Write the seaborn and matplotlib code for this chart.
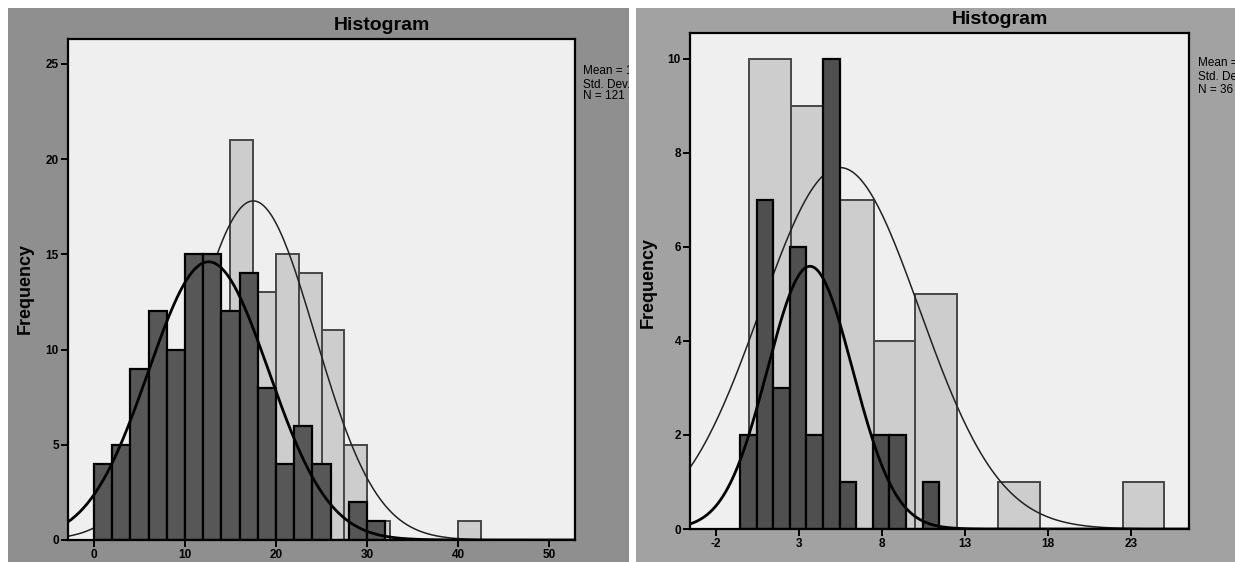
import numpy as np
import matplotlib
matplotlib.use("Agg")
import matplotlib.pyplot as plt
import seaborn as sns
from matplotlib.patches import Rectangle

# ---------------- data ----------------
# Left chart
left_light_edges = [15, 17.5, 20, 22.5, 25, 27.5, 30, 32.5, 35, 37.5, 40, 42.5]
left_light_counts = [21, 13, 15, 14, 11, 5, 1, 0, 0, 0, 1]
left_dark_edges = [0, 2, 4, 6, 8, 10, 12, 14, 16, 18, 20, 22, 24, 26, 28, 30, 32]
left_dark_counts = [4, 5, 9, 12, 10, 15, 15, 12, 14, 8, 4, 6, 4, 0, 2, 1]
left_light_fit = dict(mean=17.5, sd=6.78, n=121, bw=2.5)
left_dark_fit = dict(mean=12.6, sd=6.61, n=121, bw=2.0)
left_xticks = [0, 10, 20, 30, 40, 50]
left_yticks = [0, 5, 10, 15, 20, 25]
left_stats = ["Mean = 12.61", "Std. Dev. = 6.61", "N = 121"]

# Right chart
right_light_edges = [0, 2.5, 5, 7.5, 10, 12.5, 15, 17.5, 20, 22.5, 25]
right_light_counts = [10, 9, 7, 4, 5, 0, 1, 0, 0, 1]
right_dark_edges = [-0.55, 0.45, 1.45, 2.45, 3.45, 4.45, 5.45, 6.45, 7.45, 8.45, 9.45, 10.45, 11.45]
right_dark_counts = [2, 7, 3, 6, 2, 10, 1, 0, 2, 2, 0, 1]
right_light_fit = dict(mean=5.47, sd=4.80, n=37, bw=2.5)
right_dark_fit = dict(mean=3.66, sd=2.57, n=36, bw=1.0)
right_xticks = [-2, 3, 8, 13, 18, 23]
right_yticks = [0, 2, 4, 6, 8, 10]
right_stats = ["Mean = 3.66", "Std. Dev. = 2.57", "N = 36"]

# ---------------- style ----------------
sns.set_style("white")
plt.rcParams['font.family'] = ['Liberation Sans', 'DejaVu Sans']
plt.rcParams['axes.unicode_minus'] = False

W, H = 1235, 562
fig = plt.figure(figsize=(W / 100, H / 100), dpi=100)
fig.patch.set_facecolor("white")


def fx(px):
    return px / W


def fy(py):
    return 1 - py / H


# panel backgrounds (behind the axes)
left_panel = Rectangle((fx(8), 0), fx(629) - fx(8), fy(8), transform=fig.transFigure,
                       facecolor="#8f8f8f", edgecolor="none", zorder=-5)
right_panel = Rectangle((fx(636), 0), 1 - fx(636), fy(8), transform=fig.transFigure,
                        facecolor="#a2a2a2", edgecolor="none", zorder=-5)
fig.patches.extend([left_panel, right_panel])


def centers(edges):
    e = np.asarray(edges, dtype=float)
    return (e[:-1] + e[1:]) / 2


def fit_curve(ax, fit, xlim, color, lw, z):
    xs = np.linspace(xlim[0], xlim[1], 400)
    ys = fit["n"] * fit["bw"] / (fit["sd"] * np.sqrt(2 * np.pi)) * \
        np.exp(-0.5 * ((xs - fit["mean"]) / fit["sd"]) ** 2)
    ax.plot(xs, ys, color=color, lw=lw, zorder=z)


def draw(ax, light_e, light_c, dark_e, dark_c, light_fit, dark_fit, xlim, ylim,
         xticks, yticks, dark_fill):
    ax.set_facecolor("#efefef")
    sns.histplot(x=centers(light_e), weights=light_c, bins=light_e, ax=ax,
                 color="#cdcdcd", edgecolor="#474747", linewidth=1.4, alpha=1, zorder=2)
    fit_curve(ax, light_fit, xlim, "#222222", 1.1, 3)
    sns.histplot(x=centers(dark_e), weights=dark_c, bins=dark_e, ax=ax,
                 color=dark_fill, edgecolor="black", linewidth=1.6, alpha=1, zorder=4)
    fit_curve(ax, dark_fit, xlim, "black", 2.0, 5)
    ax.set_xlim(*xlim)
    ax.set_ylim(*ylim)
    ax.set_xticks(xticks)
    ax.set_yticks(yticks)
    ax.set_xlabel("")
    ax.set_ylabel("")
    for s in ax.spines.values():
        s.set_visible(True)
        s.set_color("black")
        s.set_linewidth(1.6)
        s.set_zorder(10)
    ax.tick_params(direction="out", length=5, width=1.4, color="black",
                   labelsize=8.5, labelcolor="black", pad=1.5,
                   bottom=True, left=True)
    for lab in ax.get_xticklabels() + ax.get_yticklabels():
        lab.set_fontweight("bold")


# left axes: x 68..575, y 39..540
axL = fig.add_axes([fx(68), fy(540), fx(575) - fx(68), fy(39) - fy(540)])
draw(axL, left_light_edges, left_light_counts, left_dark_edges, left_dark_counts,
     left_light_fit, left_dark_fit, (-2.85, 52.85), (0, 26.3),
     left_xticks, left_yticks, "#575757")

# right axes: x 690..1189, y 33..529
axR = fig.add_axes([fx(690), fy(529), fx(1189) - fx(690), fy(33) - fy(529)])
draw(axR, right_light_edges, right_light_counts, right_dark_edges, right_dark_counts,
     right_light_fit, right_dark_fit, (-3.57, 26.5), (0, 10.55),
     right_xticks, right_yticks, "#4f4f4f")

# titles
fig.text(fx(382), fy(25), "Histogram", ha="center", va="center",
         fontsize=14, fontweight="bold", color="black")
fig.text(fx(1000), fy(19), "Histogram", ha="center", va="center",
         fontsize=14, fontweight="bold", color="black")

# y labels
fig.text(fx(25), fy(288), "Frequency", ha="center", va="center", rotation=90,
         fontsize=13, fontweight="bold", color="black")
fig.text(fx(648), fy(282), "Frequency", ha="center", va="center", rotation=90,
         fontsize=13, fontweight="bold", color="black")

# stats boxes (clipped at panel edges, as in the reference)
for txt, y in zip(left_stats, [71, 85, 96]):
    t = fig.text(fx(583), fy(y), txt, ha="left", va="center", fontsize=8.5, color="black")
    t.set_clip_path(left_panel)
for txt, y in zip(right_stats, [63, 77, 90]):
    t = fig.text(fx(1198), fy(y), txt, ha="left", va="center", fontsize=8.5, color="black")
    t.set_clip_path(right_panel)

fig.savefig("out.png", dpi=100, facecolor="white")
